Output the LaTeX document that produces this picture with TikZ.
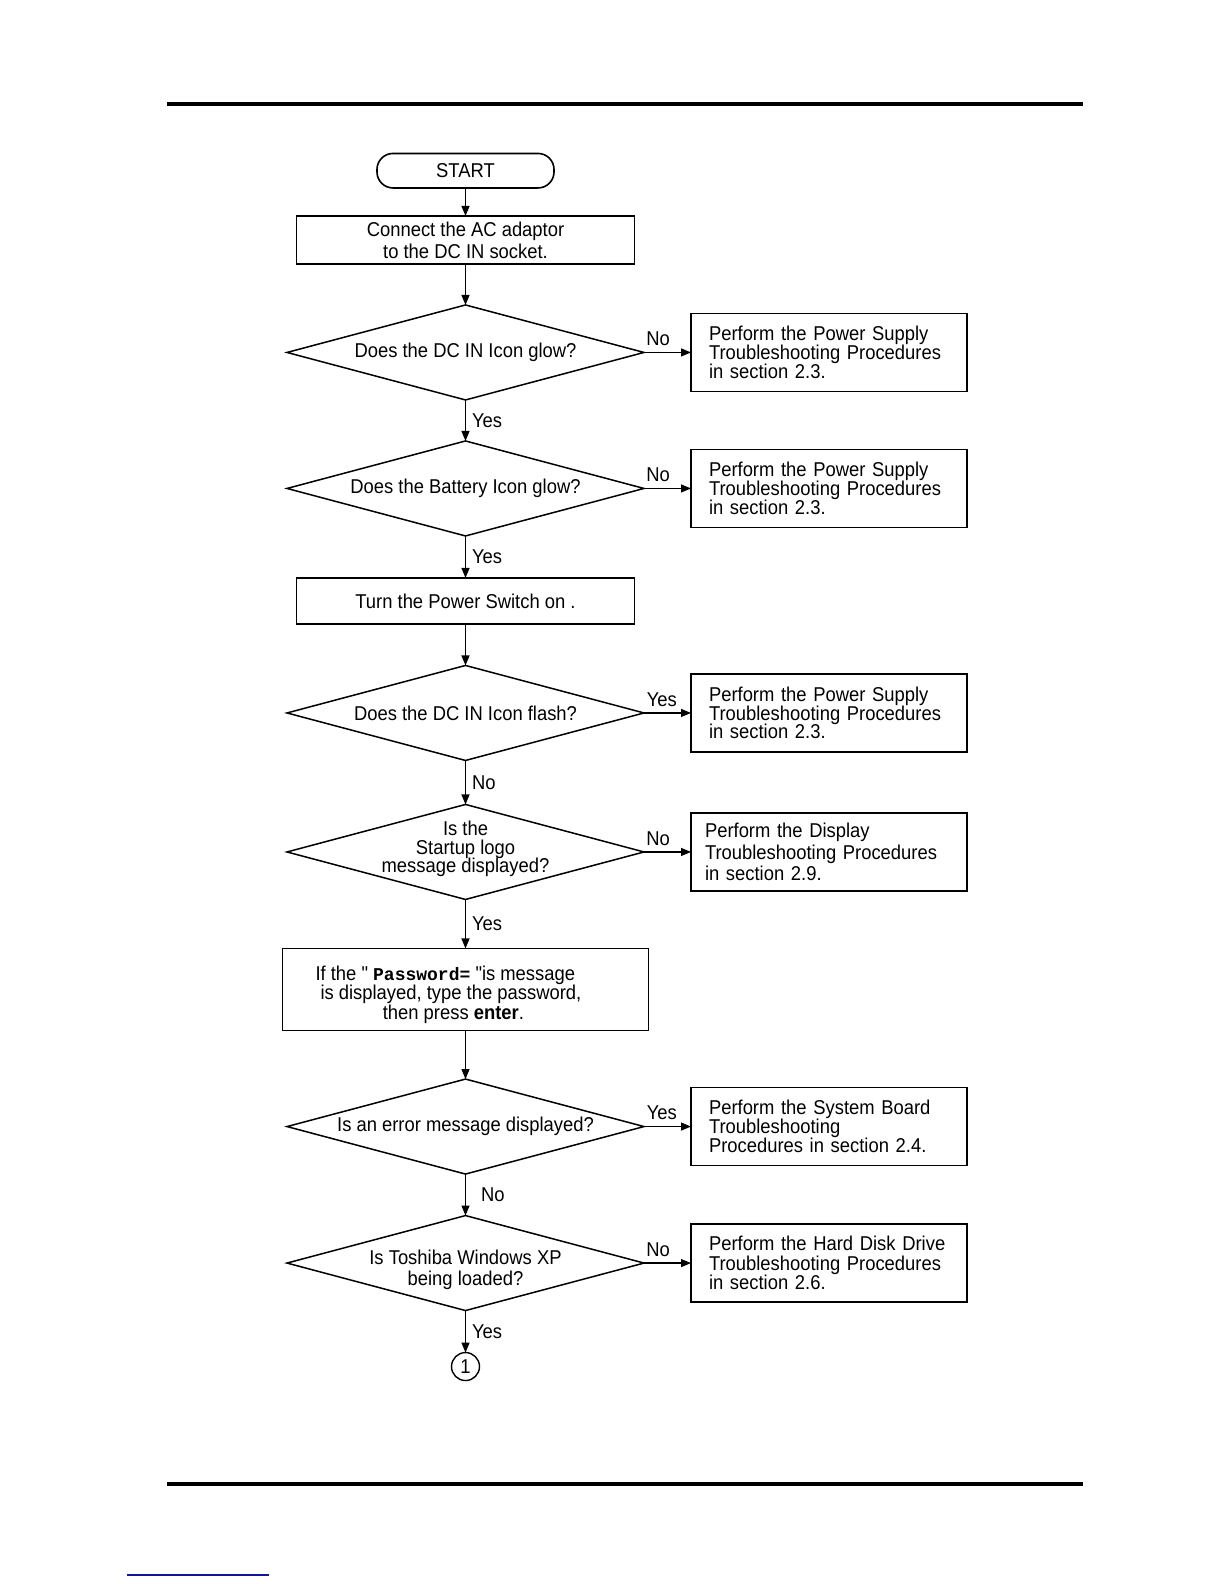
\documentclass[tikz,border=0pt]{standalone}
\usepackage{fontspec}
\setmainfont{Liberation Sans}[FakeStretch=0.92]
\setmonofont{Liberation Mono}
\newfontfamily\quotefont{Liberation Sans}[FakeStretch=0.92]
\usepackage{tikz}
\usetikzlibrary{arrows.meta,positioning,shapes.geometric}
\definecolor{linkblue}{RGB}{20,20,150}
\newcommand{\dq}{{\quotefont"}}

\begin{document}
\begin{tikzpicture}[
  x=0.5pt, y=-0.5pt,
  every node/.style={font=\fontsize{10pt}{11pt}\selectfont},
  terminal/.style={rectangle, rounded corners=8pt, draw=black, line width=0.8pt, minimum width=88.5pt, minimum height=17.25pt, inner sep=0pt, outer sep=0pt},
  process/.style={rectangle, draw=black, line width=0.9pt, minimum width=169pt, minimum height=24pt, align=center, inner sep=0pt, outer sep=0pt},
  decision/.style={diamond, draw=black, line width=0.75pt, minimum width=178.5pt, minimum height=47.5pt, inner sep=0pt, outer sep=0pt},
  dtext/.style={align=center, inner sep=0pt, font=\fontsize{10pt}{9.4pt}\selectfont},
  action/.style={rectangle, draw=black, line width=0.9pt, minimum height=39pt, text width=120pt, inner xsep=9pt, inner ysep=0pt, outer sep=0pt, align=left, font=\fontsize{10pt}{9.4pt}\selectfont},
  connector/.style={circle, draw=black, line width=0.7pt, minimum size=14pt, inner sep=0pt, outer sep=0pt},
  arrow/.style={-{Triangle[length=5pt,width=4pt]}, line width=0.6pt, draw=black},
  tag/.style={inner sep=3pt}
]
\useasboundingbox (0,0) rectangle (1224,1584);

% page rules
\draw[line width=2pt] (167,104) -- (1083,104);
\draw[line width=2.4pt] (167,1484) -- (1083,1484);
\draw[linkblue, line width=0.6pt] (127,1575) -- (269,1575);

% main column
\node[terminal] (start) at (465.5,170.7) {START};
\node[process, below=14pt of start] (adaptor) {Connect the AC adaptor\\to the DC IN socket.};
\node[decision, below=20.5pt of adaptor, label={[dtext]center:Does the DC IN Icon glow?}] (dcglow) {};
\node[decision, below=20.5pt of dcglow, label={[dtext]center:Does the Battery Icon glow?}] (batglow) {};
\node[process, below=21pt of batglow, minimum height=23pt] (power) {Turn the Power Switch on .};
\node[decision, below=20.75pt of power, label={[dtext]center:Does the DC IN Icon flash?}] (dcflash) {};
\node[decision, below=22pt of dcflash, label={[dtext, yshift=1.5pt]center:{Is the\\Startup logo\\message displayed?}}] (logo) {};
\node[process, below=24.5pt of logo, minimum width=183pt, minimum height=41pt, font=\fontsize{10pt}{9.85pt}\selectfont] (passwd) {\rule{0pt}{12.5pt}If the \dq\ {\fontsize{9pt}{9pt}\selectfont\ttfamily\bfseries Password=} \dq is message\rule{20.2pt}{0pt}\\is displayed, type the password,\rule{14.6pt}{0pt}\\then press \textbf{enter}.\rule{12.1pt}{0pt}};
\node[decision, below=24.3pt of passwd, label={[dtext]center:Is an error message displayed?}] (error) {};
\node[decision, below=20.75pt of error, label={[dtext, yshift=-3.5pt, font=\fontsize{10pt}{10.6pt}\selectfont]center:{Is Toshiba Windows XP\\being loaded?}}] (winxp) {};
\node[connector, below=21pt of winxp] (cont) {1};

% side boxes
\node[action, right=23.5pt of dcglow] (psu1) {Perform the Power Supply\\Troubleshooting Procedures\\in section 2.3.};
\node[action, right=23.5pt of batglow] (psu2) {Perform the Power Supply\\Troubleshooting Procedures\\in section 2.3.};
\node[action, right=23.5pt of dcflash] (psu3) {Perform the Power Supply\\Troubleshooting Procedures\\in section 2.3.};
\node[action, right=23.5pt of logo, inner xsep=7pt, text width=124pt, font=\fontsize{10pt}{10.6pt}\selectfont] (display) {Perform the Display\\Troubleshooting Procedures\\in section 2.9.};
\node[action, right=23.5pt of error] (board) {Perform the System Board\\Troubleshooting\\Procedures in section 2.4.};
\node[action, right=23.5pt of winxp, font=\fontsize{10pt}{9.8pt}\selectfont] (hdd) {Perform the Hard Disk Drive\\Troubleshooting Procedures\\in section 2.6.};

% connectors
\draw[arrow] (start) -- (adaptor);
\draw[arrow] (adaptor) -- (dcglow);
\draw[arrow] (dcglow) -- node[tag, right]{Yes} (batglow);
\draw[arrow] (batglow) -- node[tag, right]{Yes} (power);
\draw[arrow] (power) -- (dcflash);
\draw[arrow] (dcflash) -- node[tag, right]{No} (logo);
\draw[arrow] (logo) -- node[tag, right]{Yes} (passwd);
\draw[arrow] (passwd) -- (error);
\draw[arrow] (error) -- node[tag, right, xshift=4.5pt]{No} (winxp);
\draw[arrow] (winxp) -- node[tag, right]{Yes} (cont);

\draw[arrow] (dcglow) -- node[tag, above, pos=0.3]{No} (psu1);
\draw[arrow] (batglow) -- node[tag, above, pos=0.3]{No} (psu2);
\draw[arrow] (dcflash) -- node[tag, above, pos=0.38]{Yes} (psu3);
\draw[arrow] (logo) -- node[tag, above, pos=0.3]{No} (display);
\draw[arrow] (error) -- node[tag, above, pos=0.38]{Yes} (board);
\draw[arrow] (winxp) -- node[tag, above, pos=0.3]{No} (hdd);
\end{tikzpicture}
\end{document}
